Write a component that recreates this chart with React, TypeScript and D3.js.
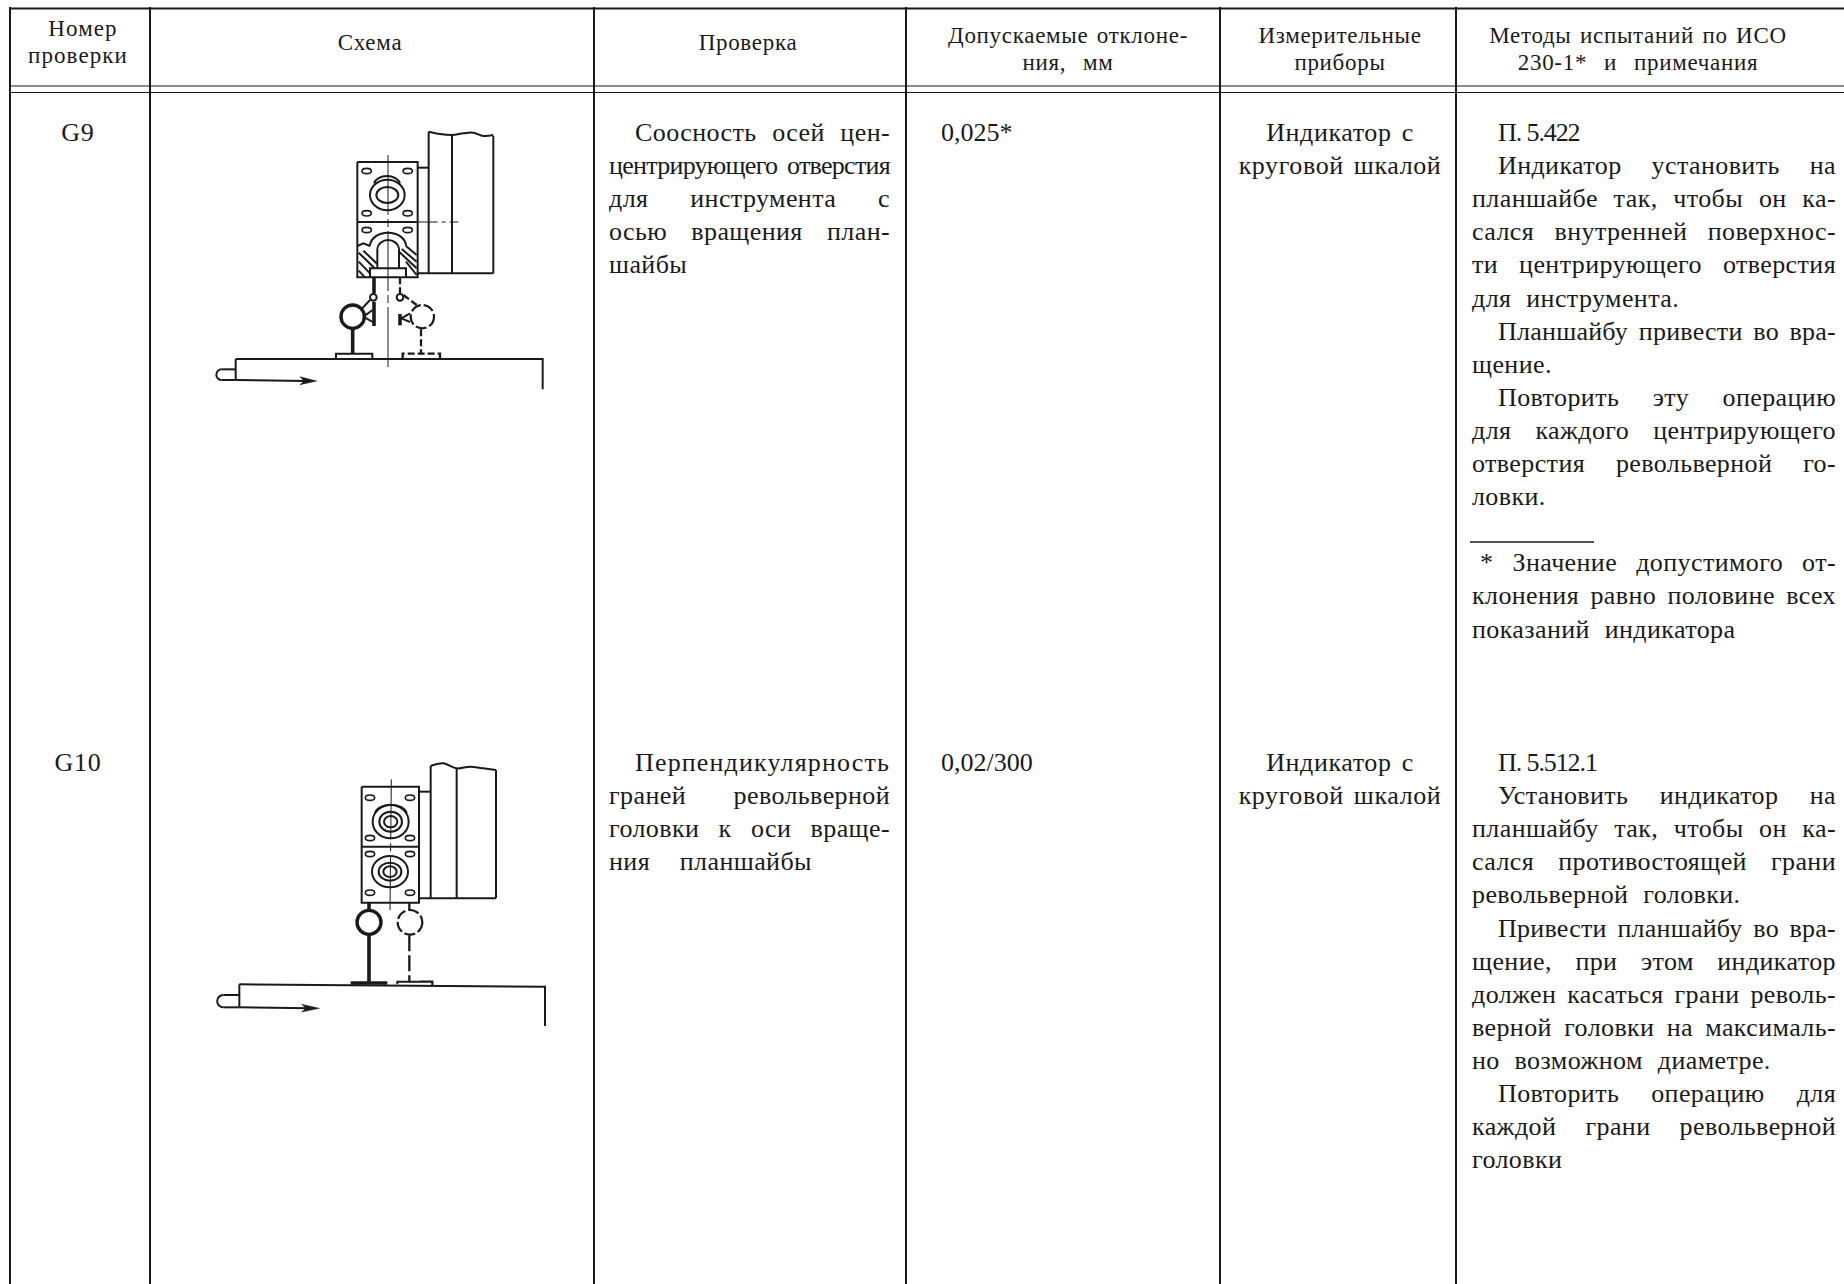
import React from "react";
import * as d3 from "d3";

const WIDTH = 1844;
const HEIGHT = 1284;

const columnEdges = [10, 150, 594, 906, 1220, 1456];
const headerTexts = [
  ["Номер", "проверки"],
  ["Схема"],
  ["Проверка"],
  ["Допускаемые отклоне-", "ния,  мм"],
  ["Измерительные", "приборы"],
  ["Методы испытаний по ИСО", "230-1*  и  примечания"],
];
const checkIds = ["G9", "G10"];
const tolerances = ["0,025*", "0,02/300"];
const instruments = ["Индикатор с", "круговой шкалой"];
const checkParagraphs = [
  [["Соосность осей цен-", "центрирующего отверстия", "для инструмента с", "осью вращения план-", "шайбы"]],
  [["Перпендикулярность", "граней револьверной", "головки к оси враще-", "ния  планшайбы"]],
];
const clauseRefs = ["П. 5.422", "П. 5.512.1"];
const methodParagraphs = [
  [
    ["Индикатор установить на", "планшайбе так, чтобы он ка-", "сался внутренней поверхнос-", "ти центрирующего отверстия", "для инструмента."],
    ["Планшайбу привести во вра-", "щение."],
    ["Повторить эту операцию", "для каждого центрирующего", "отверстия револьверной го-", "ловки."],
  ],
  [
    ["Установить индикатор на", "планшайбу так, чтобы он ка-", "сался противостоящей грани", "револьверной головки."],
    ["Привести планшайбу во вра-", "щение, при этом индикатор", "должен касаться грани револь-", "верной головки на максималь-", "но возможном диаметре."],
    ["Повторить операцию для", "каждой грани револьверной", "головки"],
  ],
];
const footnoteLines = ["* Значение допустимого от-", "клонения равно половине всех", "показаний индикатора"];

type P = [number, number];
// Sketch 1 geometry, in drawing units
const s1Solid: P[][] = [
  [[686, 35], [686, 460]], [[880, 48], [880, 460]], [[756, 45], [756, 460]], [[650, 460], [880, 460]],
  [[653, 143], [686, 143]],
  [[472, 126], [653, 126], [653, 472], [472, 472], [472, 126]], [[472, 306], [653, 306]],
  [[532, 445], [532, 385]], [[597, 385], [597, 445]],
  [[510, 472], [510, 445], [618, 445], [618, 472]],
  [[472, 378], [490, 370], [510, 378]], [[618, 378], [650, 405]],
  [[490, 392], [532, 432]], [[476, 398], [524, 445]], [[476, 425], [510, 460]], [[476, 452], [495, 472]],
  [[597, 395], [650, 445]], [[605, 387], [650, 425]], [[618, 425], [650, 465]],
  [[107, 717], [1028, 717], [1028, 808]], [[107, 717], [107, 780]], [[107, 748], [65, 748]], [[107, 780], [65, 780]],
  [[107, 780], [320, 783]], [[408, 715], [408, 701], [517, 701], [517, 715]],
  [[486, 566], [510, 540]], [[490, 590], [518, 570]], [[490, 590], [518, 606]],
  [[604, 595], [630, 580]], [[604, 595], [630, 606]],
];
const s1Thick: P[][] = [[[522, 472], [522, 520]], [[522, 546], [522, 618]], [[458, 625], [458, 700]], [[600, 582], [600, 616]]];
const s1Dashed: P[][] = [[[600, 472], [600, 520]], [[610, 525], [650, 555]], [[663, 628], [663, 700]], [[608, 716], [608, 701], [720, 701], [720, 716]]];
const s1Wave: P[] = [[686, 35], [720, 42], [756, 45], [790, 40], [820, 38], [850, 48], [880, 45]];
const s1Holes: P[] = [[500, 153], [623, 153], [500, 280], [623, 280], [500, 330], [623, 330]];
const s1Rings: [number, number, number, number][] = [[562, 225, 52, 46], [562, 225, 33, 24]];
const s1Arcs: [number, number, number, number, number, number][] = [
  [522, 190, 600, 190, 40, 28], [510, 378, 618, 378, 54, 40], [532, 385, 597, 385, 33, 30],
];
const s1Center: P[] = [[564, 105], [564, 745]];
const s1CrossAxis: P[] = [[653, 306], [775, 306]];
const s1SmallCircles: [number, number, number][] = [[520, 532, 10], [600, 532, 10]];
const s1BigSolid: [number, number, number] = [458, 590, 35];
const s1BigDashed: [number, number, number] = [667, 590, 35];
const s1Handle: [number, number, number, number] = [65, 748, 65, 780];
const s1Arrow: P[] = [[300, 770], [350, 783], [300, 794], [312, 783]];

// Sketch 2 geometry, in drawing units
const s2Solid: P[][] = [
  [[692, 48], [692, 445]], [[888, 60], [888, 445]], [[770, 55], [770, 445]], [[657, 445], [888, 445]],
  [[657, 125], [692, 125]],
  [[485, 110], [657, 110], [657, 458], [485, 458], [485, 110]], [[485, 290], [657, 290]],
  [[118, 703], [1035, 710], [1035, 828]], [[118, 703], [118, 772]], [[118, 735], [70, 735]], [[118, 772], [70, 772]],
  [[118, 772], [330, 775]], [[592, 703], [592, 695], [660, 695]],
];
const s2Thick: P[][] = [[[507, 458], [507, 480]], [[507, 555], [507, 695]], [[452, 699], [562, 699]]];
const s2Dashed: P[][] = [[[628, 458], [628, 480]], [[628, 556], [628, 695]], [[660, 695], [697, 695], [697, 705]]];
const s2Wave: P[] = [[692, 48], [730, 40], [770, 55], [810, 50], [850, 55], [888, 60]];
const s2Holes: P[] = [[510, 143], [630, 143], [510, 264], [630, 264], [510, 312], [630, 312], [510, 428], [630, 428]];
const s2Rings: [number, number, number, number][] = [
  [572, 215, 54, 50], [572, 215, 34, 30], [572, 215, 20, 17], [570, 365, 54, 47], [570, 365, 34, 27], [570, 365, 20, 16],
];
const s2Arcs: [number, number, number, number, number, number][] = [
  [525, 190, 620, 190, 48, 30],
];
const s2Center: P[] = [[574, 88], [570, 480]];
const s2BigSolid: [number, number, number] = [507, 517, 36];
const s2BigDashed: [number, number, number] = [630, 517, 37];
const s2Handle: [number, number, number, number] = [70, 735, 70, 772];
const s2Arrow: P[] = [[305, 763], [358, 775], [305, 786], [318, 775]];

const INK = "#1a1a1a";
const FONT = '"Liberation Serif", serif';
const BODY_SIZE = 26;
const HEAD_SIZE = 23;
const BODY_LS = 0.4;
const MIN_WORD_GAP = 4;
const PLAIN_WORD_GAP = 8;
const LINE_STEP = 33.1;
const rowBaselines = [141, 771];
const headerFirstBaselines = [36, 50, 50, 43, 43, 43];

const canvas = document.createElement("canvas");
const ctx = canvas.getContext("2d")!;
function widthOf(s: string, size: number, ls: number) {
  ctx.font = `${size}px "Liberation Serif"`;
  return ctx.measureText(s).width + ls * s.length;
}

function Justified({ s, x, right, y, justify }: { s: string; x: number; right: number; y: number; justify: boolean }) {
  const spaces = s.split(" ").length - 1;
  const room = right - x;
  const natural = widthOf(s, BODY_SIZE, BODY_LS);
  let ls = BODY_LS;
  let ws = PLAIN_WORD_GAP;
  if (justify && spaces > 0) {
    ws = (room - natural) / spaces;
    if (ws < MIN_WORD_GAP) {
      // too long at the usual tracking: tighten the letters, as the typesetter did
      ls = BODY_LS - ((MIN_WORD_GAP - ws) * spaces) / s.length;
      ws = MIN_WORD_GAP;
    }
  } else if (justify) {
    ls = BODY_LS + (room - natural) / s.length;
  }
  return (
    <text x={x} y={y} fontSize={BODY_SIZE} letterSpacing={ls} wordSpacing={ws} fill={INK} style={{ whiteSpace: "pre" }}>
      {s}
    </text>
  );
}

function paragraphLines(paras: string[][]) {
  const out: { s: string; indent: boolean; justify: boolean }[] = [];
  paras.forEach((p) =>
    p.forEach((s, i) => out.push({ s, indent: i === 0, justify: i < p.length - 1 || p.length === 1 }))
  );
  return out;
}

function Sketch({
  left, top, solid, thick, dashed, dash, wave, holes, rings, arcs, center, cross, small, bigSolid, bigDashed, handle, arrow,
}: {
  left: number; top: number; solid: P[][]; thick: P[][]; dashed: P[][]; dash: string; wave: P[]; holes: P[];
  rings: [number, number, number, number][]; arcs: [number, number, number, number, number, number][];
  center: P[]; cross?: P[]; small: [number, number, number][]; bigSolid: [number, number, number];
  bigDashed: [number, number, number]; handle: [number, number, number, number]; arrow: P[];
}) {
  const k = 1 / 3;
  const sx = d3.scaleLinear().domain([0, 1080]).range([left, left + 1080 * k]);
  const sy = d3.scaleLinear().domain([0, 900]).range([top, top + 900 * k]);
  const line = d3.line<P>().x((d) => sx(d[0])).y((d) => sy(d[1]));
  const waveLine = d3.line<P>().x((d) => sx(d[0])).y((d) => sy(d[1])).curve(d3.curveCardinal);
  const arcPath = (a: number[]) =>
    `M${sx(a[0])},${sy(a[1])}A${a[4] * k},${a[5] * k} 0 0 1 ${sx(a[2])},${sy(a[3])}`;
  return (
    <g fill="none" stroke={INK} strokeWidth={2}>
      {solid.map((p, i) => <path key={i} d={line(p)!} />)}
      {thick.map((p, i) => <path key={i} d={line(p)!} strokeWidth={3.6} />)}
      {dashed.map((p, i) => <path key={i} d={line(p)!} strokeWidth={2.3} strokeDasharray={dash} />)}
      <path d={waveLine(wave)!} />
      {holes.map((h, i) => <ellipse key={i} cx={sx(h[0])} cy={sy(h[1])} rx={14 * k} ry={8 * k} strokeWidth={1.6} />)}
      {rings.map((r, i) => <ellipse key={i} cx={sx(r[0])} cy={sy(r[1])} rx={r[2] * k} ry={r[3] * k} />)}
      {arcs.map((a, i) => <path key={i} d={arcPath(a)} />)}
      <path d={line(center)!} strokeWidth={1} strokeDasharray="60 4 8 4" />
      {cross && <path d={line(cross)!} strokeWidth={1} strokeDasharray="20 4 4 4" />}
      {small.map((c, i) => <circle key={i} cx={sx(c[0])} cy={sy(c[1])} r={c[2] * k} strokeWidth={2} />)}
      <circle cx={sx(bigSolid[0])} cy={sy(bigSolid[1])} r={bigSolid[2] * k} strokeWidth={3.4} />
      <circle cx={sx(bigDashed[0])} cy={sy(bigDashed[1])} r={bigDashed[2] * k} strokeWidth={2.2} strokeDasharray="11 3" />
      <path d={`M${sx(handle[0])},${sy(handle[1])}A${((handle[3] - handle[1]) / 2) * k},${((handle[3] - handle[1]) / 2) * k} 0 0 0 ${sx(handle[2])},${sy(handle[3])}`} />
      <path d={line(arrow)! + "Z"} fill={INK} strokeWidth={0.5} />
    </g>
  );
}

export default function App() {
  const headerCenters = [78, 370, 748, 1068, 1340, 1638];
  const methodX = 1472;
  const methodRight = 1836;
  const checkX = 609;
  const checkRight = 890;
  return (
    <svg width={WIDTH} height={HEIGHT} style={{ position: "absolute", left: 0, top: 0, display: "block" }} fontFamily={FONT}>
      <rect width={WIDTH} height={HEIGHT} fill="#fff" />
      <line x1={10} x2={WIDTH} y1={8.5} y2={8.5} stroke={INK} strokeWidth={2} />
      <line x1={10} x2={WIDTH} y1={86} y2={86} stroke={INK} strokeWidth={1.2} />
      <line x1={10} x2={WIDTH} y1={92.5} y2={92.5} stroke={INK} strokeWidth={1.2} />
      {columnEdges.map((c) => <line key={c} x1={c} x2={c} y1={7} y2={HEIGHT} stroke={INK} strokeWidth={2} />)}

      {headerTexts.map((lines, i) =>
        lines.map((s, j) => (
          <text key={`${i}-${j}`} x={headerCenters[i] + (i === 0 && j === 0 ? 5 : 0)} y={headerFirstBaselines[i] + j * 26.5}
            textAnchor="middle" fontSize={HEAD_SIZE} letterSpacing={i === 0 ? 1.1 : 0.7} wordSpacing={2} fill={INK}
            style={{ whiteSpace: "pre" }}>
            {s}
          </text>
        ))
      )}

      {checkIds.map((id, r) => (
        <g key={id}>
          <text x={78} y={rowBaselines[r]} textAnchor="middle" fontSize={BODY_SIZE} letterSpacing={0.8} fill={INK}>{id}</text>
          <text x={941} y={rowBaselines[r]} fontSize={BODY_SIZE} letterSpacing={0} fill={INK}>{tolerances[r]}</text>
          {instruments.map((s, j) => (
            <text key={s} x={1340} y={rowBaselines[r] + j * LINE_STEP} textAnchor="middle" fontSize={BODY_SIZE} letterSpacing={0.6} wordSpacing={3} fill={INK}>{s}</text>
          ))}
          {paragraphLines(checkParagraphs[r]).map((l, j, all) => (
            <Justified key={j} s={l.s} x={l.indent ? checkX + 26 : checkX} right={checkRight}
              y={rowBaselines[r] + j * LINE_STEP} justify={j < all.length - 1} />
          ))}
          <text x={methodX + 26} y={rowBaselines[r]} fontSize={BODY_SIZE} letterSpacing={-1.1} fill={INK}>{clauseRefs[r]}</text>
          {paragraphLines(methodParagraphs[r]).map((l, j) => (
            <Justified key={j} s={l.s} x={l.indent ? methodX + 26 : methodX} right={methodRight}
              y={rowBaselines[r] + (j + 1) * LINE_STEP} justify={l.justify} />
          ))}
        </g>
      ))}

      <line x1={1470} x2={1594} y1={542} y2={542} stroke={INK} strokeWidth={1.4} />
      {footnoteLines.map((s, j) => (
        <Justified key={s} s={s} x={j === 0 ? methodX + 8 : methodX} right={methodRight}
          y={rowBaselines[0] + (j + 13) * LINE_STEP} justify={j < 2} />
      ))}

      <Sketch left={200} top={120} solid={s1Solid} thick={s1Thick} dashed={s1Dashed} dash="7 3" wave={s1Wave} holes={s1Holes}
        rings={s1Rings} arcs={s1Arcs} center={s1Center} cross={s1CrossAxis} small={s1SmallCircles}
        bigSolid={s1BigSolid} bigDashed={s1BigDashed} handle={s1Handle} arrow={s1Arrow} />
      <Sketch left={200} top={750} solid={s2Solid} thick={s2Thick} dashed={s2Dashed} dash="16 4" wave={s2Wave} holes={s2Holes}
        rings={s2Rings} arcs={s2Arcs} center={s2Center} small={[]}
        bigSolid={s2BigSolid} bigDashed={s2BigDashed} handle={s2Handle} arrow={s2Arrow} />
    </svg>
  );
}
